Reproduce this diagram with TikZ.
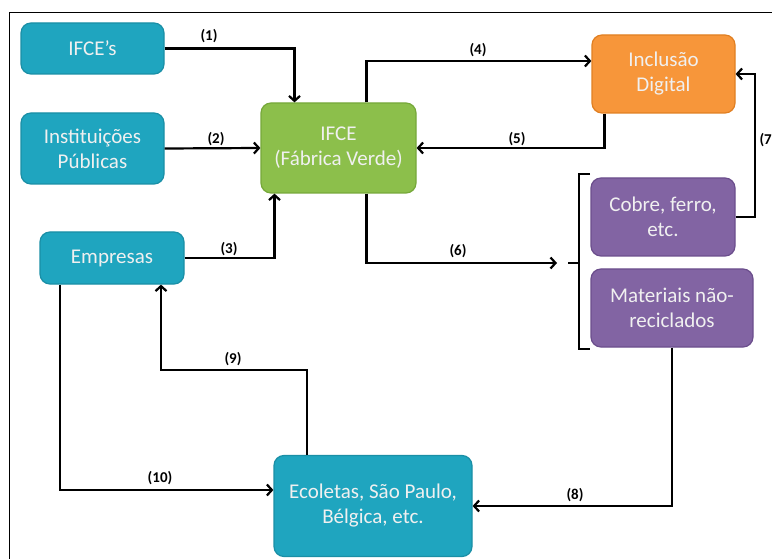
\documentclass[tikz,border=0pt]{standalone}
\usepackage{fontspec}
\setmainfont{Carlito}
\usetikzlibrary{arrows.meta}

\definecolor{teal}{HTML}{1FA5BF}
\definecolor{tealdark}{HTML}{1A8FA6}
\definecolor{leaf}{HTML}{8CBF4B}
\definecolor{leafdark}{HTML}{76A83A}
\definecolor{amber}{HTML}{F7963A}
\definecolor{amberdark}{HTML}{E07F22}
\definecolor{grape}{HTML}{8264A3}
\definecolor{grapedark}{HTML}{6B4E8C}

\begin{document}
\begin{tikzpicture}[x=1pt,y=-1pt,
	box/.style={rounded corners=10pt,line width=1.2pt,inner sep=0pt,align=center,text=white!94!black,font=\fontsize{21}{25}\selectfont},
	bluebox/.style={box,fill=teal,draw=tealdark},
	greenbox/.style={box,fill=leaf,draw=leafdark},
	orangebox/.style={box,fill=amber,draw=amberdark},
	purplebox/.style={box,fill=grape,draw=grapedark},
	link/.style={line width=2.2pt,-{Straight Barb[length=5pt,width=11pt,line width=2.2pt]}},
	lbl/.style={font=\bfseries\fontsize{15}{15}\selectfont,inner sep=0pt}]
	\useasboundingbox (0,0) rectangle (772,559);
	\begin{scope}
		\clip (0,0) rectangle (772,559);
		\draw[line width=1pt] (9,570) -- (9,13) -- (780,13);
		% boxes
		\node[bluebox,minimum width=143pt,minimum height=51pt] (ifces) at (92.5,48.5) {IFCE’s};
		\node[bluebox,minimum width=143pt,minimum height=71pt] (publicas) at (92.5,148.5) {Instituições\\Públicas};
		\node[bluebox,minimum width=144pt,minimum height=52pt] (empresas) at (112,258) {Empresas};
		\node[greenbox,minimum width=155pt,minimum height=90pt] (ifce) at (338.5,148) {IFCE\\(Fábrica Verde)};
		\node[orangebox,minimum width=143pt,minimum height=78pt] (inclusao) at (663.5,74) {Inclusão\\Digital};
		\node[purplebox,minimum width=144pt,minimum height=78pt] (cobre) at (663,217) {Cobre, ferro,\\etc.};
		\node[purplebox,minimum width=162pt,minimum height=78pt] (materiais) at (672,308) {Materiais não-\\reciclados};
		\node[bluebox,minimum width=198pt,minimum height=101pt] (ecoletas) at (373,506) {Ecoletas, São Paulo,\\Bélgica, etc.};
		% bracket
		\draw[line width=2.2pt] (590,174) -- (579,174) -- (579,349) -- (590,349);
		\draw[line width=2.2pt] (568,263) -- (579,263);
		\coordinate (brk) at (557,263);
		% connectors
		\draw[link] (ifces.east) -| ([xshift=-44pt]ifce.north);
		\draw[link] (publicas.east) -- (ifce.west);
		\draw[link] (empresas.east) -| ([xshift=-64pt]ifce.south);
		\draw[link] ([xshift=28pt]ifce.north) |- ([yshift=13pt]inclusao.west);
		\draw[link] ([xshift=-59pt]inclusao.south) |- (ifce.east);
		\draw[link] ([xshift=28pt]ifce.south) |- (brk);
		\draw[link] (cobre.east) -- ++(19,0) |- (inclusao.east);
		\draw[link] (materiais.south) |- (ecoletas.east);
		\draw[link] ([xshift=-66pt]ecoletas.north) -- ++(0,-85) -| ([xshift=49pt]empresas.south);
		\draw[link] ([xshift=-52pt]empresas.south) |- ([yshift=16pt]ecoletas.west);
		% labels
		\foreach \n/\x/\y in {1/209/36,2/216/139,3/229/249,4/478/50,5/517/139,6/458/251,7/768/140,8/575/495,9/233/359,10/160/478}
			\node[lbl] (l\n) at (\x,\y) {(\n)};
	\end{scope}
\end{tikzpicture}
\end{document}
